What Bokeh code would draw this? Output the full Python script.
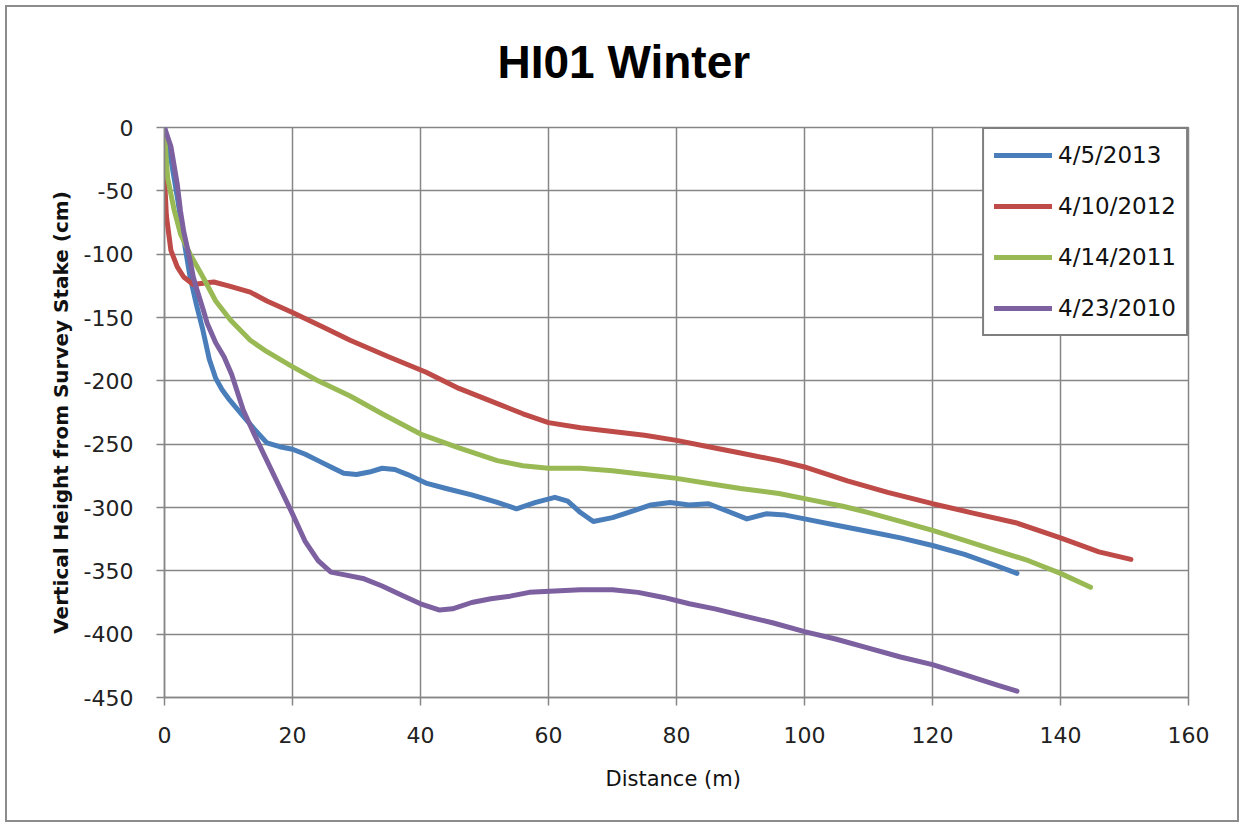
from bokeh.plotting import figure
from bokeh.models import Range1d, Legend, LegendItem, Title, FixedTicker, CustomJSTickFormatter
from bokeh.embed import file_html
from bokeh.resources import INLINE

# ---- data ----
labels = ["4/5/2013", "4/10/2012", "4/14/2011", "4/23/2010"]
colors = ["#4a7ebb", "#be4b48", "#98b954", "#7d60a0"]

x_2013 = [0, 1, 2, 3, 4, 5, 6, 7, 8, 9, 10, 12, 14, 16, 18, 20, 22, 24, 26, 28, 30, 32, 34, 36, 38, 41, 44, 48,
          52, 55, 58, 61, 63, 65, 67, 70, 73, 76, 79, 82, 85, 88, 91, 94, 97, 100, 105, 110, 115, 120, 125, 130, 133.2]
y_2013 = [0, -25, -55, -88, -118, -140, -160, -183, -198, -207, -214, -226, -238, -249, -252, -254, -258, -263, -268,
          -273, -274, -272, -269, -270, -274, -281, -285, -290, -296, -301, -296, -292, -295, -304, -311, -308, -303,
          -298, -296, -298, -297, -303, -309, -305, -306, -309, -314, -319, -324, -330, -337, -346, -352]

x_2012 = [0, 0.3, 1, 2, 3, 4.5, 6, 7.7, 10, 13.4, 16, 20, 25, 29, 35, 40.8, 46, 52.5, 56, 60, 65, 70, 75, 80, 85,
          90, 96, 100, 106.7, 113, 120, 126, 133, 140, 146, 151]
y_2012 = [-40, -70, -97, -110, -118, -124, -123, -122, -125, -130, -137, -146, -158, -168, -181, -193, -206, -219,
          -226, -233, -237, -240, -243, -247, -252, -257, -263, -268, -279, -288, -297, -304, -312, -324, -335, -341]

x_2011 = [0, 0.5, 1.5, 2.5, 4, 6, 8, 10.3, 13.4, 16, 19.7, 24, 29, 34, 40, 46, 52, 56, 60, 65, 70, 75, 80, 85, 90,
          96, 100, 106, 110, 115, 120, 125, 130, 135, 140, 144.7]
y_2011 = [-5, -40, -65, -84, -100, -118, -137, -152, -168, -177, -188, -200, -212, -226, -242, -253, -263, -267,
          -269, -269, -271, -274, -277, -281, -285, -289, -293, -299, -304, -311, -318, -326, -334, -342, -352, -363]

x_2010 = [0, 1, 2, 2.5, 3, 4, 4.5, 5, 6, 6.7, 8, 9.3, 10.5, 12.3, 14, 16, 18, 20, 22, 24, 26, 28, 31, 34, 37, 40,
          43, 45, 48, 51, 54, 57, 61, 65, 70, 74, 78, 82, 86, 90, 95, 100, 105, 110, 115, 120, 125, 130, 133.2]
y_2010 = [0, -15, -45, -66, -82, -105, -118, -127, -143, -155, -170, -181, -195, -223, -242, -263, -284, -305, -327,
          -342, -351, -353, -356, -362, -369, -376, -381, -380, -375, -372, -370, -367, -366, -365, -365, -367, -371,
          -376, -380, -385, -391, -398, -404, -411, -418, -424, -432, -440, -445]

series_x = [x_2013, x_2012, x_2011, x_2010]
series_y = [y_2013, y_2012, y_2011, y_2010]

x_ticks = [0, 20, 40, 60, 80, 100, 120, 140, 160]
y_ticks = [0, -50, -100, -150, -200, -250, -300, -350, -400, -450]

grid_color = "#868686"

p = figure(frame_width=1024, frame_height=570,
           min_border_left=157, min_border_right=49, min_border_top=120, min_border_bottom=123,
           x_range=Range1d(0, 160), y_range=Range1d(-450, 0),
           output_backend="svg", toolbar_location=None, title=None,
           background_fill_color="white", border_fill_color="white")

p.styles = {"border": "2px solid #8c8c8c", "margin": "5px 0 0 5px"}

# spacer panel between the frame and the title (first "above" item sits next to the frame)
spacer = Title(text=" ", text_font_size="12px", standoff=24, text_color="white")
p.add_layout(spacer, "above")

title = Title(text="HI01 Winter", align="left", offset=333, text_font="Liberation Sans",
              text_font_size="46px", text_font_style="bold", text_color="#000000",
              vertical_align="bottom", standoff=0)
p.add_layout(title, "above")

p.outline_line_color = grid_color
p.outline_line_width = 1.5

for ax in (p.xaxis[0], p.yaxis[0]):
    ax.axis_line_color = grid_color
    ax.axis_line_width = 1.5
    ax.major_tick_line_color = grid_color
    ax.major_tick_line_width = 1.5
    ax.major_tick_out = 8
    ax.major_tick_in = 0
    ax.minor_tick_out = 0
    ax.minor_tick_in = 0
    ax.major_label_text_font = "DejaVu Sans"
    ax.major_label_text_font_size = "22px"
    ax.major_label_text_color = "#222222"
    ax.axis_label_text_color = "#111111"
    ax.formatter = CustomJSTickFormatter(code="return String(tick);")

p.xaxis.ticker = FixedTicker(ticks=x_ticks)
p.yaxis.ticker = FixedTicker(ticks=y_ticks)
p.xaxis.major_label_standoff = 21
p.yaxis.major_label_standoff = 23

p.xaxis.axis_label = "Distance  (m)"
p.xaxis.axis_label_text_font = "DejaVu Sans"
p.xaxis.axis_label_text_font_size = "21px"
p.xaxis.axis_label_text_font_style = "normal"
p.xaxis.axis_label_standoff = 21

p.yaxis.axis_label = "Vertical Height from Survey Stake (cm)"
p.yaxis.axis_label_text_font = "DejaVu Sans"
p.yaxis.axis_label_text_font_size = "20px"
p.yaxis.axis_label_text_font_style = "bold"
p.yaxis.axis_label_standoff = 8

p.xgrid.ticker = FixedTicker(ticks=x_ticks)
p.ygrid.ticker = FixedTicker(ticks=y_ticks)
p.xgrid.grid_line_color = grid_color
p.ygrid.grid_line_color = grid_color
p.xgrid.grid_line_width = 1.5
p.ygrid.grid_line_width = 1.5

items = []
for xs, ys, lab, col in zip(series_x, series_y, labels, colors):
    r = p.line(xs, ys, line_color=col, line_width=5, line_join="round", line_cap="round")
    items.append(LegendItem(label=lab, renderers=[r]))

legend = Legend(items=items, location="top_right", margin=0, padding=10,
                glyph_width=58, glyph_height=32, label_height=32, spacing=19, label_standoff=6,
                label_text_font="DejaVu Sans", label_text_font_size="23px", label_text_color="#111111",
                border_line_color="#000000", border_line_width=2,
                background_fill_color="white", background_fill_alpha=1.0)
p.add_layout(legend, "center")

open("out.html", "w").write(file_html(p, INLINE))
